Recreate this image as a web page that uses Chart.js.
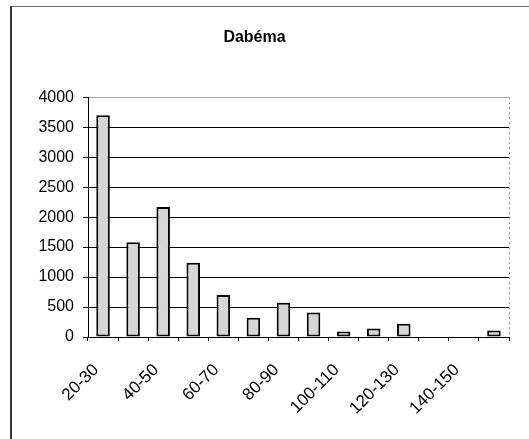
<!DOCTYPE html>
<html>
<head>
<meta charset="utf-8">
<script src="https://cdn.jsdelivr.net/npm/chart.js@4"></script>
<style>
    html, body { margin: 0; padding: 0; background: #fff; }
    #wrap { width: 529px; height: 439px; position: relative; }
</style>
</head>
<body>
<div id="wrap"><canvas id="dabemaChart"></canvas></div>
<script>
const categories = ['20-30', '30-40', '40-50', '50-60', '60-70', '70-80', '80-90',
    '90-100', '100-110', '110-120', '120-130', '130-140', '140-150', '150-160'];
const counts = [3700, 1580, 2170, 1240, 700, 320, 570, 410, 90, 140, 220, 0, 0, 110];
const yTicks = [0, 500, 1000, 1500, 2000, 2500, 3000, 3500, 4000];

// frame of the chart object + dotted right edge of the plot area
const framePlugin = {
    id: 'frame',
    afterDraw(chart) {
        const c = chart.ctx;
        const a = chart.chartArea;
        c.save();
        c.strokeStyle = '#333';
        c.lineWidth = 2;
        c.beginPath();
        c.moveTo(11, 6);
        c.lineTo(11, 439);
        c.stroke();
        c.strokeStyle = '#666';
        c.lineWidth = 1;
        c.beginPath();
        c.moveTo(11, 6.5);
        c.lineTo(529, 6.5);
        c.stroke();
        c.strokeStyle = '#999';
        c.setLineDash([2, 3]);
        c.beginPath();
        c.moveTo(a.right + 0.5, a.top);
        c.lineTo(a.right + 0.5, a.bottom);
        c.stroke();
        c.restore();
    }
};

const ctx = document.getElementById('dabemaChart').getContext('2d');
new Chart(ctx, {
    type: 'bar',
    data: {
        labels: categories,
        datasets: [{
            data: counts,
            backgroundColor: '#d6d6d6',
            borderColor: '#000',
            borderWidth: 2,
            borderSkipped: false,
            categoryPercentage: 1,
            barPercentage: 0.45
        }]
    },
    options: {
        responsive: true,
        maintainAspectRatio: false,
        animation: false,
        layout: { padding: { top: 0, right: 20, bottom: 0, left: 0 } },
        plugins: {
            legend: { display: false },
            tooltip: { enabled: false },
            title: {
                display: true,
                text: 'Dabéma',
                color: '#000',
                font: { family: 'Liberation Sans, Arial, sans-serif', size: 16, weight: 'bold' },
                padding: { top: 28, bottom: 50 }
            }
        },
        scales: {
            x: {
                grid: {
                    offset: true,
                    drawOnChartArea: false,
                    tickLength: 4,
                    tickColor: '#000'
                },
                border: { color: '#000', width: 1 },
                ticks: {
                    autoSkip: false,
                    maxRotation: 45,
                    minRotation: 45,
                    padding: 19,
                    labelOffset: -7,
                    color: '#000',
                    font: { family: 'Liberation Sans, Arial, sans-serif', size: 17 },
                    callback: (val, i) => (i % 2 === 0 ? categories[i] : '')
                },
                afterFit: (scale) => { scale.height = 102; }
            },
            y: {
                min: 0,
                max: 4000,
                afterBuildTicks: (scale) => { scale.ticks = yTicks.map(v => ({ value: v })); },
                grid: {
                    color: (c) => (c.tick && c.tick.value === 4000 ? '#aaa' : '#000'),
                    lineWidth: 1,
                    tickLength: 5,
                    tickColor: '#000'
                },
                border: { color: '#000', width: 1 },
                ticks: {
                    padding: 9,
                    color: '#000',
                    font: { family: 'Liberation Sans, Arial, sans-serif', size: 16 },
                    callback: (v) => String(v)
                },
                afterFit: (scale) => { scale.width = 88; }
            }
        }
    },
    plugins: [framePlugin]
});
</script>
</body>
</html>
